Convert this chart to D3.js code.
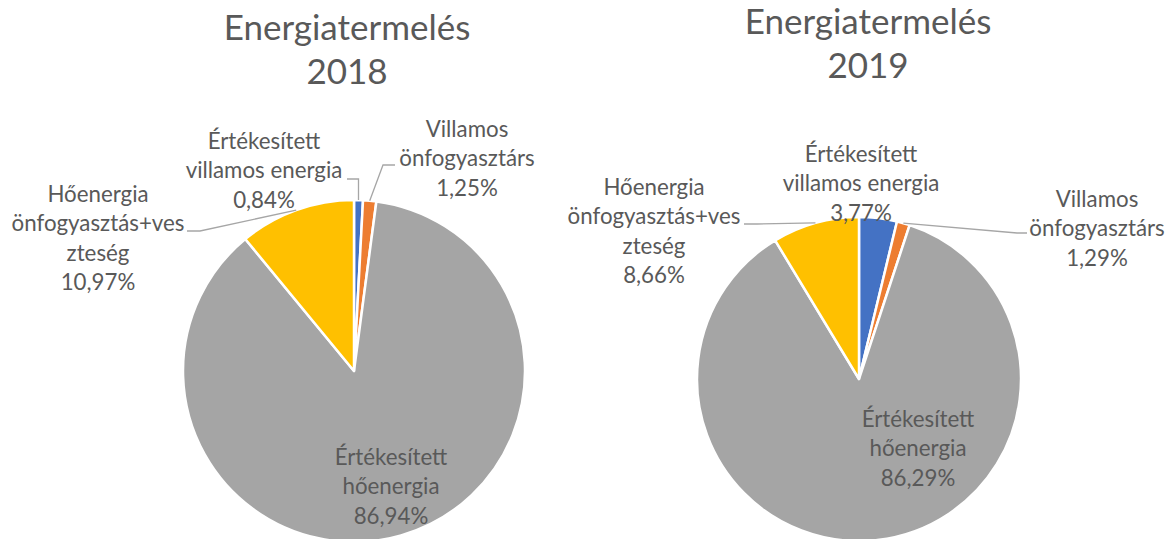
<!DOCTYPE html>
<html>
<head>
<meta charset="utf-8">
<script src="https://cdn.jsdelivr.net/npm/d3@7"></script>
<style>
  html, body { margin: 0; padding: 0; background: #fff; }
  svg { display: block; }
  text { font-family: Lato, "Open Sans", sans-serif; fill: #595959; }
</style>
</head>
<body>
<svg id="chart" width="1171" height="539"></svg>
<script>
// ---- data ----
const categories = ["Értékesített villamos energia", "Villamos önfogyasztárs", "Értékesített hőenergia", "Hőenergia önfogyasztás+veszteség"];
const labelLines = [["Értékesített", "villamos energia"], ["Villamos", "önfogyasztárs"], ["Értékesített", "hőenergia"], ["Hőenergia", "önfogyasztás+ves", "zteség"]];
const values2018 = [0.84, 1.25, 86.94, 10.97];
const values2019 = [3.77, 1.29, 86.29, 8.66];
const titles = [["Energiatermelés", "2018"], ["Energiatermelés", "2019"]];
const colors = ["#4472C4", "#ED7D31", "#A5A5A5", "#FFC000"];

// ---- layout (positions / styles) ----
const charts = [
  {
    values: values2018, title: titles[0],
    cx: 354, cy: 371, r: 171,
    titleX: 347, titleY: 40,
    labels: [
      { x: 264, y: 149, leader: [[358.5, 179], [347, 179]] },
      { x: 467, y: 137, leader: [[383, 165], [395, 165]] },
      { x: 391, y: 465 },
      { x: 98, y: 202, leader: [[200, 231], [187, 231]] }
    ]
  },
  {
    values: values2019, title: titles[1],
    cx: 859, cy: 379, r: 162,
    titleX: 868, titleY: 34,
    labels: [
      { x: 861, y: 162 },
      { x: 1097, y: 207, leader: [[1017, 233], [1027, 233]] },
      { x: 918, y: 427 },
      { x: 654, y: 195, leader: [[757, 224], [744, 224]] }
    ]
  }
];
const lineH = 29.3;
const fmt = v => d3.format(".2f")(v).replace(".", ",") + "%";

const svg = d3.select("#chart");
const color = d3.scaleOrdinal().domain(categories).range(colors);
const pie = d3.pie().sort(null).value(d => d.value);

charts.forEach(c => {
  const data = categories.map((k, i) => ({ key: k, value: c.values[i], lines: labelLines[i] }));
  const arcs = pie(data);
  const arc = d3.arc().innerRadius(0).outerRadius(c.r);
  const edge = d3.arc().innerRadius(c.r).outerRadius(c.r);

  const g = svg.append("g");
  // title
  g.append("text")
    .attr("x", c.titleX).attr("y", c.titleY)
    .attr("text-anchor", "middle")
    .style("font-size", "35px")
    .selectAll("tspan").data(c.title).join("tspan")
    .attr("x", c.titleX).attr("dy", (d, i) => i === 0 ? 0 : 44)
    .text(d => d);

  const pg = g.append("g").attr("transform", `translate(${c.cx},${c.cy})`);
  pg.selectAll("path").data(arcs).join("path")
    .attr("d", arc)
    .attr("fill", d => color(d.data.key))
    .attr("stroke", "#fff")
    .attr("stroke-width", 2.5)
    .attr("stroke-linejoin", "round");

  // leader lines
  arcs.forEach((a, i) => {
    const L = c.labels[i];
    if (!L.leader) return;
    const p = edge.centroid(a);
    const pts = [[c.cx + p[0], c.cy + p[1]], ...L.leader];
    g.append("path")
      .attr("d", d3.line()(pts))
      .attr("fill", "none")
      .attr("stroke", "#A6A6A6")
      .attr("stroke-width", 1.3);
  });

  // labels
  arcs.forEach((a, i) => {
    const L = c.labels[i];
    const lines = [...a.data.lines, fmt(a.data.value)];
    g.append("text")
      .attr("text-anchor", "middle")
      .style("font-size", "22.3px")
      .selectAll("tspan").data(lines).join("tspan")
      .attr("x", L.x)
      .attr("y", (d, j) => L.y + j * lineH)
      .text(d => d);
  });
});
</script>
</body>
</html>
